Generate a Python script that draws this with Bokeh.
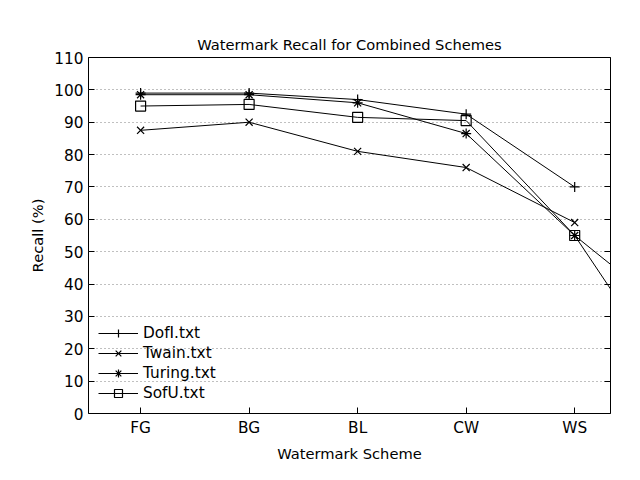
from bokeh.plotting import figure
from bokeh.models import LinearAxis, Range1d, FixedTicker, Legend, LegendItem
from bokeh.embed import file_html
from bokeh.resources import INLINE

schemes = ["FG", "BG", "BL", "CW", "WS"]
xs = [0, 1, 2, 3, 4, 5]
dofi = [99, 99, 97, 92.5, 70, float("nan")]
twain = [87.5, 90, 81, 76, 59, float("nan")]
turing = [98.5, 98.5, 96, 86.5, 55, 28]
sofu = [95, 95.5, 91.5, 90.5, 55, 5]
yticks = list(range(0, 111, 10))

FONT = "DejaVu Sans"

p = figure(width=624, height=464, output_backend="svg", toolbar_location=None,
           x_range=Range1d(-0.48, 4.33), y_range=Range1d(0, 110),
           min_border_left=88, min_border_right=14, min_border_top=57, min_border_bottom=45,
           title="Watermark Recall for Combined Schemes")
p.title.align = "center"
p.title.text_font = FONT
p.title.text_font_style = "normal"
p.title.text_font_size = "11pt"
p.title.text_color = "black"
p.title.offset = 10
p.outline_line_color = "black"
p.outline_line_alpha = 1

p.xaxis.ticker = FixedTicker(ticks=xs[:5])
p.xaxis.major_label_overrides = {i: s for i, s in enumerate(schemes)}
p.yaxis.ticker = FixedTicker(ticks=yticks)
for ax in (p.xaxis, p.yaxis):
    ax.major_label_text_font = FONT
    ax.major_label_text_font_size = "11.5pt"
    ax.major_label_text_color = "black"
    ax.axis_label_text_font = FONT
    ax.axis_label_text_font_size = "11pt"
    ax.axis_label_text_font_style = "normal"
    ax.axis_label_text_color = "black"
    ax.minor_tick_line_color = None
    ax.major_tick_in = 6
    ax.major_tick_out = 0
    ax.major_tick_line_color = "black"
    ax.axis_line_color = None
p.xaxis.axis_label = "Watermark Scheme"
p.yaxis.axis_label = "Recall (%)"
r_ax = LinearAxis(ticker=FixedTicker(ticks=yticks), major_label_text_font_size="0pt",
                  minor_tick_line_color=None, major_tick_in=6, major_tick_out=0,
                  major_tick_line_color="black", axis_line_color=None)
p.add_layout(r_ax, "right")
p.xgrid.grid_line_color = None
p.ygrid.grid_line_color = "gray"
p.ygrid.grid_line_dash = "1 3"

items = []
for name, ys, mk in [("DofI.txt", dofi, "cross"), ("Twain.txt", twain, "x"),
                     ("Turing.txt", turing, "asterisk"), ("SofU.txt", sofu, "square")]:
    l = p.line(xs, ys, line_color="black", line_width=1)
    m = p.scatter(xs[:5], ys[:5], marker=mk, size=10, line_color="black",
                  fill_color=None, line_width=1.2)
    items.append(LegendItem(label=name, renderers=[l, m]))

leg = Legend(items=items, location="bottom_left", border_line_color=None,
             background_fill_alpha=0, label_text_font=FONT, label_text_font_size="11.5pt",
             label_text_color="black", glyph_width=40, spacing=-4, margin=10)
p.add_layout(leg)

open("out.html", "w").write(file_html(p, INLINE))
